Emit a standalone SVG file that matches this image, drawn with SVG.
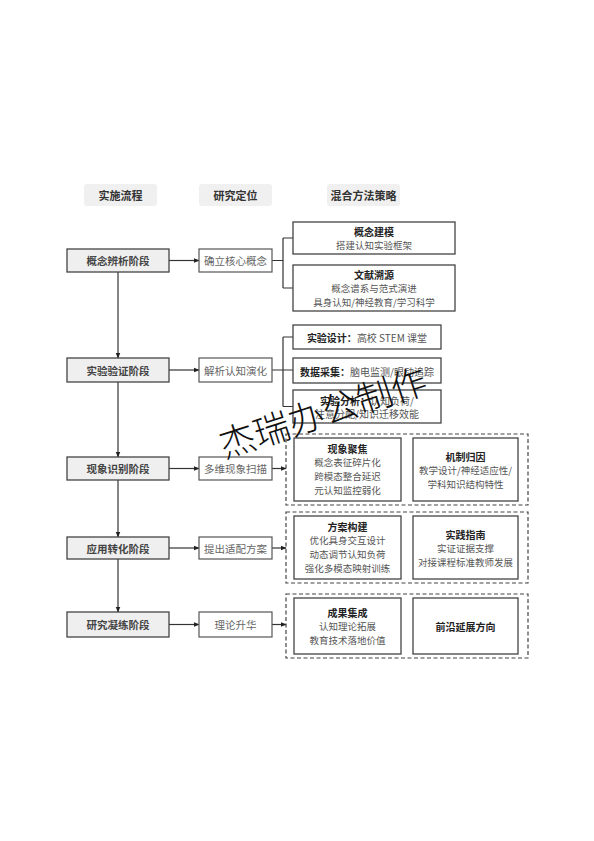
<svg xmlns="http://www.w3.org/2000/svg" width="594" height="841" viewBox="0 0 594 841">
<defs>
<marker id="ah" viewBox="0 0 10 10" refX="9" refY="5" markerWidth="6" markerHeight="6" orient="auto" markerUnits="userSpaceOnUse">
<path d="M0,1 L10,5 L0,9 Z" fill="#222"/>
</marker>
<style>
text{font-family:"Noto Sans CJK SC","Noto Sans",sans-serif;text-anchor:middle;dominant-baseline:central}
.hd{fill:#f0f0f0}
.hdt{font-size:11px;font-weight:bold;fill:#333}
.stage{fill:#efefef;stroke:#444;stroke-width:1.3}
.st{font-size:10.5px;font-weight:bold;fill:#444}
.pos{fill:#fff;stroke:#555;stroke-width:1.2}
.pt{font-size:10.5px;fill:#666}
.box{fill:#fff;stroke:#444;stroke-width:1.3}
.bt{font-size:10px;font-weight:bold;fill:#222}
.dt{font-size:9.5px;fill:#555}
.dash{fill:none;stroke:#444;stroke-width:1.2;stroke-dasharray:4 2.5}
.ln{fill:none;stroke:#333;stroke-width:1.2}
.wm{font-size:36px;fill:#111;font-family:"Noto Sans CJK SC",sans-serif;font-weight:300}
</style>
</defs>
<rect width="594" height="841" fill="#fff"/>

<g id="headers">
<rect class="hd" x="84" y="184" width="73" height="22" rx="3"/>
<text class="hdt" x="120.5" y="195">实施流程</text>
<rect class="hd" x="199" y="184" width="73" height="22" rx="3"/>
<text class="hdt" x="235.5" y="195">研究定位</text>
<rect class="hd" x="327" y="184" width="73" height="22" rx="3"/>
<text class="hdt" x="363.5" y="195">混合方法策略</text>
</g>

<g id="connectors">
<line class="ln" x1="118" y1="272" x2="118" y2="358" marker-end="url(#ah)"/>
<line class="ln" x1="118" y1="382" x2="118" y2="457" marker-end="url(#ah)"/>
<line class="ln" x1="118" y1="480" x2="118" y2="537" marker-end="url(#ah)"/>
<line class="ln" x1="118" y1="559" x2="118" y2="612" marker-end="url(#ah)"/>
<line class="ln" x1="169" y1="260.5" x2="199" y2="260.5" marker-end="url(#ah)"/>
<line class="ln" x1="169" y1="370" x2="199" y2="370" marker-end="url(#ah)"/>
<line class="ln" x1="169" y1="468.5" x2="199" y2="468.5" marker-end="url(#ah)"/>
<line class="ln" x1="169" y1="548" x2="199" y2="548" marker-end="url(#ah)"/>
<line class="ln" x1="169" y1="624.5" x2="199" y2="624.5" marker-end="url(#ah)"/>
<path class="ln" d="M272,260.5 H283 M283,238 V288 M283,238 H293 M283,288 H293"/>
<path class="ln" d="M272,370 H293 M283,337 V406.5 M283,337 H293 M283,406.5 H293"/>
<line class="ln" x1="272" y1="468.5" x2="286" y2="468.5" marker-end="url(#ah)"/>
<line class="ln" x1="272" y1="548" x2="286" y2="548" marker-end="url(#ah)"/>
<line class="ln" x1="272" y1="624.5" x2="286" y2="624.5" marker-end="url(#ah)"/>
</g>

<g id="stage1">
<rect class="stage" x="67" y="249" width="102" height="23"/>
<text class="st" x="118" y="260.5">概念辨析阶段</text>
</g>
<g id="pos1">
<rect class="pos" x="199" y="249" width="73" height="23"/>
<text class="pt" x="235.5" y="260.5">确立核心概念</text>
</g>
<g id="m1a">
<rect class="box" x="293" y="222" width="162" height="32"/>
<text class="bt" x="374" y="231">概念建模</text>
<text class="dt" x="374" y="245">搭建认知实验框架</text>
</g>
<g id="m1b">
<rect class="box" x="293" y="265" width="162" height="46"/>
<text class="bt" x="374" y="274">文献溯源</text>
<text class="dt" x="374" y="288">概念谱系与范式演进</text>
<text class="dt" x="374" y="302">具身认知/神经教育/学习科学</text>
</g>

<g id="stage2">
<rect class="stage" x="67" y="358" width="102" height="24"/>
<text class="st" x="118" y="370">实验验证阶段</text>
</g>
<g id="pos2">
<rect class="pos" x="199" y="358" width="73" height="24"/>
<text class="pt" x="235.5" y="370">解析认知演化</text>
</g>
<g id="m2a">
<rect class="box" x="293" y="325" width="148" height="24"/>
<text x="367" y="337" style="font-size:10px"><tspan font-weight="bold" fill="#222">实验设计：</tspan><tspan fill="#555">高校 STEM 课堂</tspan></text>
</g>
<g id="m2b">
<rect class="box" x="293" y="358" width="148" height="25"/>
<text x="367" y="370.5" style="font-size:10px"><tspan font-weight="bold" fill="#222">数据采集：</tspan><tspan fill="#555">脑电监测/眼动追踪</tspan></text>
</g>
<g id="m2c">
<rect class="box" x="293" y="390" width="148" height="33"/>
<text x="367" y="399.5" style="font-size:10px"><tspan font-weight="bold" fill="#222">实验分析：</tspan><tspan fill="#555">认知负荷/</tspan></text>
<text x="367" y="413.5" style="font-size:10px;fill:#555">注意分配/知识迁移效能</text>
</g>

<g id="stage3">
<rect class="stage" x="67" y="457" width="102" height="23"/>
<text class="st" x="118" y="468.5">现象识别阶段</text>
</g>
<g id="pos3">
<rect class="pos" x="199" y="457" width="73" height="23"/>
<text class="pt" x="235.5" y="468.5">多维现象扫描</text>
</g>
<g id="grp3">
<rect class="dash" x="286" y="434" width="242" height="71"/>
</g>
<g id="m3a">
<rect class="box" x="294" y="438" width="107" height="63"/>
<text class="bt" x="347.5" y="448">现象聚焦</text>
<text class="dt" x="347.5" y="462">概念表征碎片化</text>
<text class="dt" x="347.5" y="476">跨模态整合延迟</text>
<text class="dt" x="347.5" y="490">元认知监控弱化</text>
</g>
<g id="m3b">
<rect class="box" x="413" y="438" width="105" height="63"/>
<text class="bt" x="465.5" y="456">机制归因</text>
<text class="dt" x="465.5" y="470">教学设计/神经适应性/</text>
<text class="dt" x="465.5" y="484">学科知识结构特性</text>
</g>

<g id="stage4">
<rect class="stage" x="67" y="537" width="102" height="22"/>
<text class="st" x="118" y="548">应用转化阶段</text>
</g>
<g id="pos4">
<rect class="pos" x="199" y="537" width="73" height="22"/>
<text class="pt" x="235.5" y="548">提出适配方案</text>
</g>
<g id="grp4">
<rect class="dash" x="286" y="512" width="242" height="71"/>
</g>
<g id="m4a">
<rect class="box" x="294" y="516" width="107" height="63"/>
<text class="bt" x="347.5" y="526">方案构建</text>
<text class="dt" x="347.5" y="540">优化具身交互设计</text>
<text class="dt" x="347.5" y="554">动态调节认知负荷</text>
<text class="dt" x="347.5" y="568">强化多模态映射训练</text>
</g>
<g id="m4b">
<rect class="box" x="413" y="516" width="105" height="63"/>
<text class="bt" x="465.5" y="534">实践指南</text>
<text class="dt" x="465.5" y="548">实证证据支撑</text>
<text class="dt" x="465.5" y="562">对接课程标准教师发展</text>
</g>

<g id="stage5">
<rect class="stage" x="67" y="612" width="102" height="25"/>
<text class="st" x="118" y="624.5">研究凝练阶段</text>
</g>
<g id="pos5">
<rect class="pos" x="199" y="612" width="73" height="25"/>
<text class="pt" x="235.5" y="624.5">理论升华</text>
</g>
<g id="grp5">
<rect class="dash" x="286" y="594" width="242" height="64"/>
</g>
<g id="m5a">
<rect class="box" x="294" y="598" width="107" height="56"/>
<text class="bt" x="347.5" y="612">成果集成</text>
<text class="dt" x="347.5" y="626">认知理论拓展</text>
<text class="dt" x="347.5" y="640">教育技术落地价值</text>
</g>
<g id="m5b">
<rect class="box" x="413" y="598" width="105" height="56"/>
<text class="bt" x="465.5" y="626">前沿延展方向</text>
</g>

<g id="watermark">
<text class="wm" x="322" y="410" transform="rotate(-18 322 410)">杰瑞办公制作</text>
</g>
</svg>
